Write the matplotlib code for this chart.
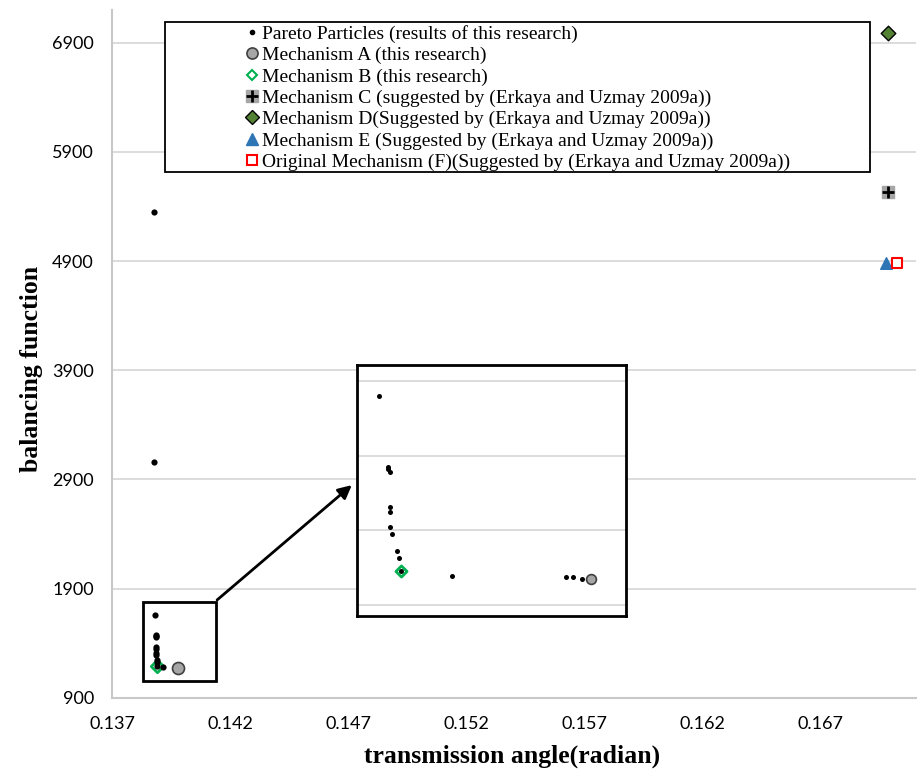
import matplotlib
matplotlib.use('Agg')
import matplotlib.pyplot as plt
from matplotlib.patches import Rectangle
from matplotlib.lines import Line2D

# Pareto front points (transmission angle, balancing function)
pareto_x = [0.13879, 0.13879, 0.13882, 0.13886, 0.13886, 0.13887, 0.13887, 0.13887,
            0.13887, 0.13888, 0.13890, 0.13891, 0.13892, 0.13915, 0.13967, 0.13970, 0.13974]
pareto_y = [5350, 3055, 1659, 1470, 1464, 1455, 1362, 1349,
            1310, 1291, 1244, 1226, 1191, 1177, 1174, 1174, 1171]

mech_a = (0.13978, 1170)
mech_b = (0.13892, 1191)
mech_c = (0.16983, 5529)
mech_d = (0.16983, 6985)
mech_e = (0.16976, 4879)
mech_f = (0.17021, 4879)

labels = ['Pareto Particles (results of this research)',
          'Mechanism A (this research)',
          'Mechanism B (this research)',
          'Mechanism C (suggested by (Erkaya and Uzmay 2009a))',
          'Mechanism D(Suggested by (Erkaya and Uzmay 2009a))',
          'Mechanism E (Suggested by (Erkaya and Uzmay 2009a))',
          'Original Mechanism (F)(Suggested by (Erkaya and Uzmay 2009a))']

x_ticks = [0.137, 0.142, 0.147, 0.152, 0.157, 0.162, 0.167]
y_ticks = [900, 1900, 2900, 3900, 4900, 5900, 6900]
inset_grid = [1100, 1300, 1500, 1700]

W, H = 917, 773
fig = plt.figure(figsize=(W / 100, H / 100), dpi=100)
ax = fig.add_axes([112 / W, 1 - 697.7 / H, (916 - 112) / W, (697.7 - 10) / H])

grid_c = '#D9D9D9'
green = '#00B050'


def draw_points(a, s_dot, s_a, s_b):
    a.scatter([mech_b[0]], [mech_b[1]], marker='D', s=s_b, facecolor='white',
              edgecolor=green, linewidths=2, zorder=3)
    a.scatter(pareto_x, pareto_y, s=s_dot, color='black', zorder=4, linewidths=0)
    a.scatter([mech_a[0]], [mech_a[1]], s=s_a, facecolor='#A6A6A6',
              edgecolor='#404040', linewidths=1.2, zorder=5)


draw_points(ax, 20, 75, 40)
ax.scatter([mech_c[0]], [mech_c[1]], marker='s', s=70, color='#A6A6A6', zorder=3)
ax.scatter([mech_c[0]], [mech_c[1]], marker='+', s=70, color='black', linewidths=2, zorder=4)
ax.scatter([mech_d[0]], [mech_d[1]], marker='D', s=55, facecolor='#548235',
           edgecolor='black', linewidths=1, zorder=3)
ax.scatter([mech_e[0]], [mech_e[1]], marker='^', s=70, color='#2E75B6', zorder=3)
ax.scatter([mech_f[0]], [mech_f[1]], marker='s', s=60, facecolor='white',
           edgecolor='red', linewidths=1.5, zorder=3)

ax.set_xlim(0.137, 0.17103)
ax.set_ylim(900, 7200)
ax.set_xticks(x_ticks)
ax.set_yticks(y_ticks)
ax.set_xticklabels(['%.3f' % v for v in x_ticks])
ax.set_yticklabels([str(v) for v in y_ticks])
ax.tick_params(length=0, labelsize=13, pad=13)
for lab in ax.get_xticklabels() + ax.get_yticklabels():
    lab.set_fontfamily('Lato')
ax.grid(axis='y', color=grid_c, lw=1.3)
ax.set_axisbelow(True)
for sp in ['top', 'right']:
    ax.spines[sp].set_visible(False)
for sp in ['left', 'bottom']:
    ax.spines[sp].set_color('#C8C8C8')
    ax.spines[sp].set_linewidth(1.5)

# zoom box and arrow
ax.add_patch(Rectangle((0.13832, 1053), 0.14140 - 0.13832, 1779 - 1053,
                       fill=False, ec='black', lw=2, zorder=6))
ax.annotate('', xy=(0.14724, 2864), xytext=(0.14136, 1779),
            arrowprops=dict(arrowstyle='-|>', color='black', lw=2, mutation_scale=20),
            zorder=6)

# inset
axi = fig.add_axes([357 / W, 1 - 616 / H, 269 / W, 251 / H])
draw_points(axi, 13, 50, 32)
axi.set_xlim(0.13872, 0.13994)
axi.set_ylim(1071, 1742)
axi.set_xticks([])
axi.set_yticks(inset_grid)
axi.set_yticklabels([])
axi.tick_params(length=0)
axi.grid(axis='y', color=grid_c, lw=1.3)
axi.set_axisbelow(True)
for sp in axi.spines.values():
    sp.set_linewidth(2)

# legend
fig.add_artist(Rectangle((165 / W, 1 - 172 / H), 705 / W, 150 / H, transform=fig.transFigure,
                         fill=True, fc='white', ec='black', lw=1.3, zorder=10))
handles = [
    Line2D([], [], ls='', marker='o', ms=3, color='black'),
    Line2D([], [], ls='', marker='o', ms=8, mfc='#A6A6A6', mec='#404040', mew=1.2),
    Line2D([], [], ls='', marker='D', ms=5, mfc='white', mec=green, mew=1.5),
    (Line2D([], [], ls='', marker='s', ms=8, color='#A6A6A6'),
     Line2D([], [], ls='', marker='+', ms=8, color='black', mew=2)),
    Line2D([], [], ls='', marker='D', ms=7, mfc='#548235', mec='black', mew=1),
    Line2D([], [], ls='', marker='^', ms=8, color='#2E75B6'),
    Line2D([], [], ls='', marker='s', ms=7, mfc='white', mec='red', mew=1.5),
]
leg = fig.legend(handles, labels, loc='upper left', bbox_to_anchor=(243 / W, 1 - 23 / H),
                 frameon=False, prop={'family': 'Liberation Serif', 'size': 14},
                 handlelength=0.7, handletextpad=0.2, labelspacing=0.19,
                 borderpad=0.1, borderaxespad=0)
leg.set_zorder(11)

fig.text(32 / W, 1 - 369 / H, 'balancing function', rotation=90, ha='center', va='center',
         family='Liberation Serif', weight='bold', size=18.5)
fig.text(512 / W, 1 - 756 / H, 'transmission angle(radian)', ha='center', va='center',
         family='Liberation Serif', weight='bold', size=18.5)

fig.savefig('out.png', dpi=100)
